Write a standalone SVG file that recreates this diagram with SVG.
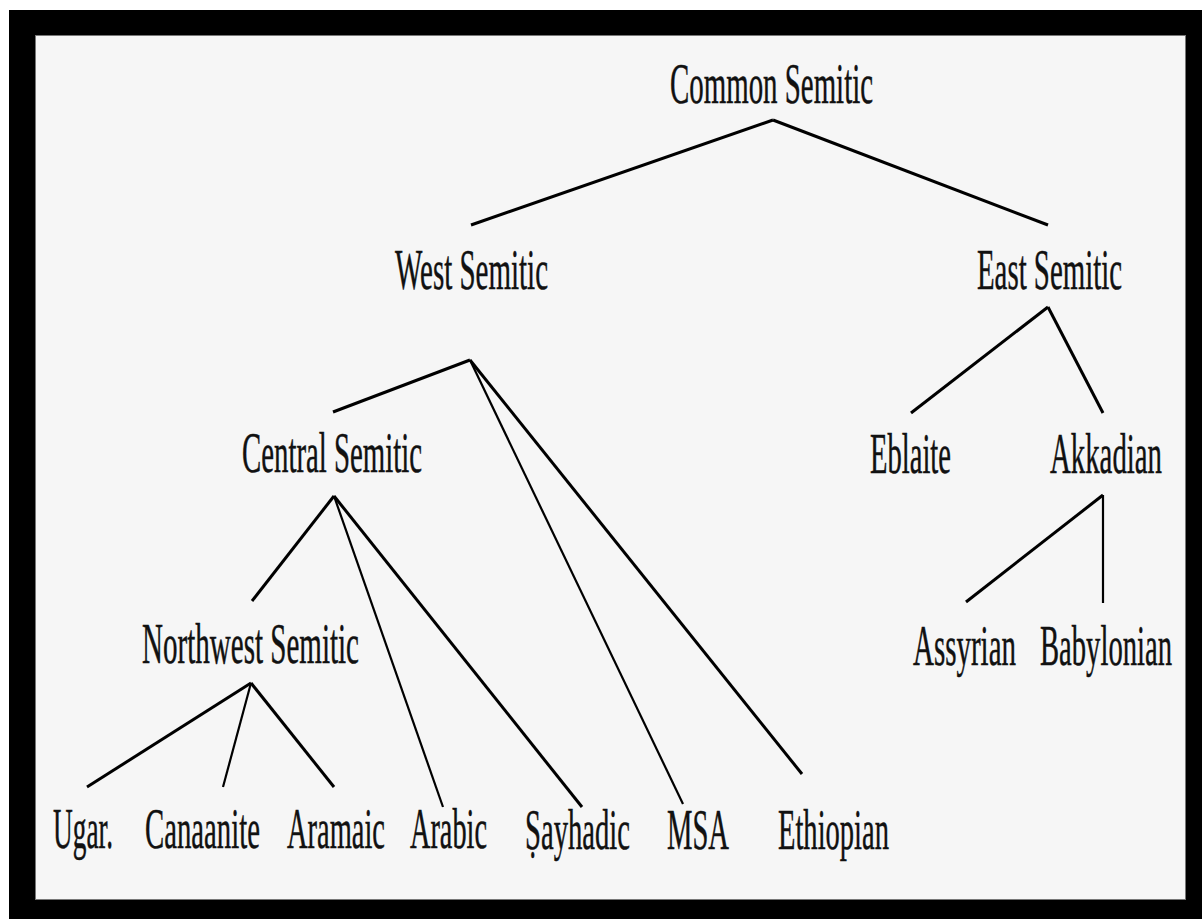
<svg xmlns="http://www.w3.org/2000/svg" width="1202" height="919" viewBox="0 0 1202 919">
<style>
text{font-family:"Liberation Serif","Times New Roman",serif;font-size:29px;fill:#111;stroke:#111;stroke-width:0.25}
.c line{stroke:#000;stroke-width:3;stroke-linecap:butt}
.c line.t{stroke-width:2.2}
</style>
<rect x="0" y="0" width="1202" height="919" fill="#ffffff"/>
<rect x="9" y="10" width="1193" height="909" fill="#000000"/>
<rect x="35.5" y="35.5" width="1150" height="864" fill="#f6f6f6" stroke="#777" stroke-width="1"/>
<g class="c" id="connectors">
<line x1="773" y1="120" x2="471" y2="225"/>
<line x1="773" y1="120" x2="1048" y2="225"/>
<line x1="470" y1="360" x2="333" y2="412"/>
<line x1="470" y1="360" x2="683" y2="804" class="t"/>
<line x1="470" y1="360" x2="802" y2="774"/>
<line x1="1048" y1="307" x2="911" y2="413"/>
<line x1="1048" y1="307" x2="1103" y2="413"/>
<line x1="334" y1="496" x2="252" y2="601"/>
<line x1="334" y1="496" x2="443" y2="807" class="t"/>
<line x1="334" y1="496" x2="582" y2="807"/>
<line x1="251" y1="683" x2="87" y2="787"/>
<line x1="251" y1="683" x2="223" y2="787" class="t"/>
<line x1="251" y1="683" x2="334" y2="787"/>
<line x1="1103" y1="495" x2="966" y2="602"/>
<line x1="1103" y1="495" x2="1103" y2="603" class="t"/>
</g>
<g id="n-common"><text transform="translate(670,103) scale(1,2.0)" textLength="203" lengthAdjust="spacingAndGlyphs">Common Semitic</text></g>
<g id="n-west"><text transform="translate(395,289) scale(1,1.93)" textLength="153" lengthAdjust="spacingAndGlyphs">West Semitic</text></g>
<g id="n-east"><text transform="translate(977,289) scale(1,1.93)" textLength="145" lengthAdjust="spacingAndGlyphs">East Semitic</text></g>
<g id="n-central"><text transform="translate(242,472) scale(1,1.93)" textLength="180" lengthAdjust="spacingAndGlyphs">Central Semitic</text></g>
<g id="n-eblaite"><text transform="translate(870,473) scale(1,1.93)" textLength="81" lengthAdjust="spacingAndGlyphs">Eblaite</text></g>
<g id="n-akkadian"><text transform="translate(1050,473) scale(1,1.93)" textLength="112" lengthAdjust="spacingAndGlyphs">Akkadian</text></g>
<g id="n-northwest"><text transform="translate(142,663) scale(1,1.93)" textLength="217" lengthAdjust="spacingAndGlyphs">Northwest Semitic</text></g>
<g id="n-assyrian"><text transform="translate(913,665) scale(1,1.93)" textLength="103" lengthAdjust="spacingAndGlyphs">Assyrian</text></g>
<g id="n-babylonian"><text transform="translate(1040,665) scale(1,1.93)" textLength="132" lengthAdjust="spacingAndGlyphs">Babylonian</text></g>
<g id="n-ugar"><text transform="translate(53,848) scale(1,1.93)" textLength="60" lengthAdjust="spacingAndGlyphs">Ugar.</text></g>
<g id="n-canaanite"><text transform="translate(145,848) scale(1,1.93)" textLength="115" lengthAdjust="spacingAndGlyphs">Canaanite</text></g>
<g id="n-aramaic"><text transform="translate(287,848) scale(1,1.93)" textLength="98" lengthAdjust="spacingAndGlyphs">Aramaic</text></g>
<g id="n-arabic"><text transform="translate(410,848) scale(1,1.93)" textLength="77" lengthAdjust="spacingAndGlyphs">Arabic</text></g>
<g id="n-sayhadic"><text transform="translate(525,849) scale(1,1.93)" textLength="105" lengthAdjust="spacingAndGlyphs">Ṣayhadic</text></g>
<g id="n-msa"><text transform="translate(667,849) scale(1,1.93)" textLength="62" lengthAdjust="spacingAndGlyphs">MSA</text></g>
<g id="n-ethiopian"><text transform="translate(778,849) scale(1,1.93)" textLength="111" lengthAdjust="spacingAndGlyphs">Ethiopian</text></g>
</svg>
